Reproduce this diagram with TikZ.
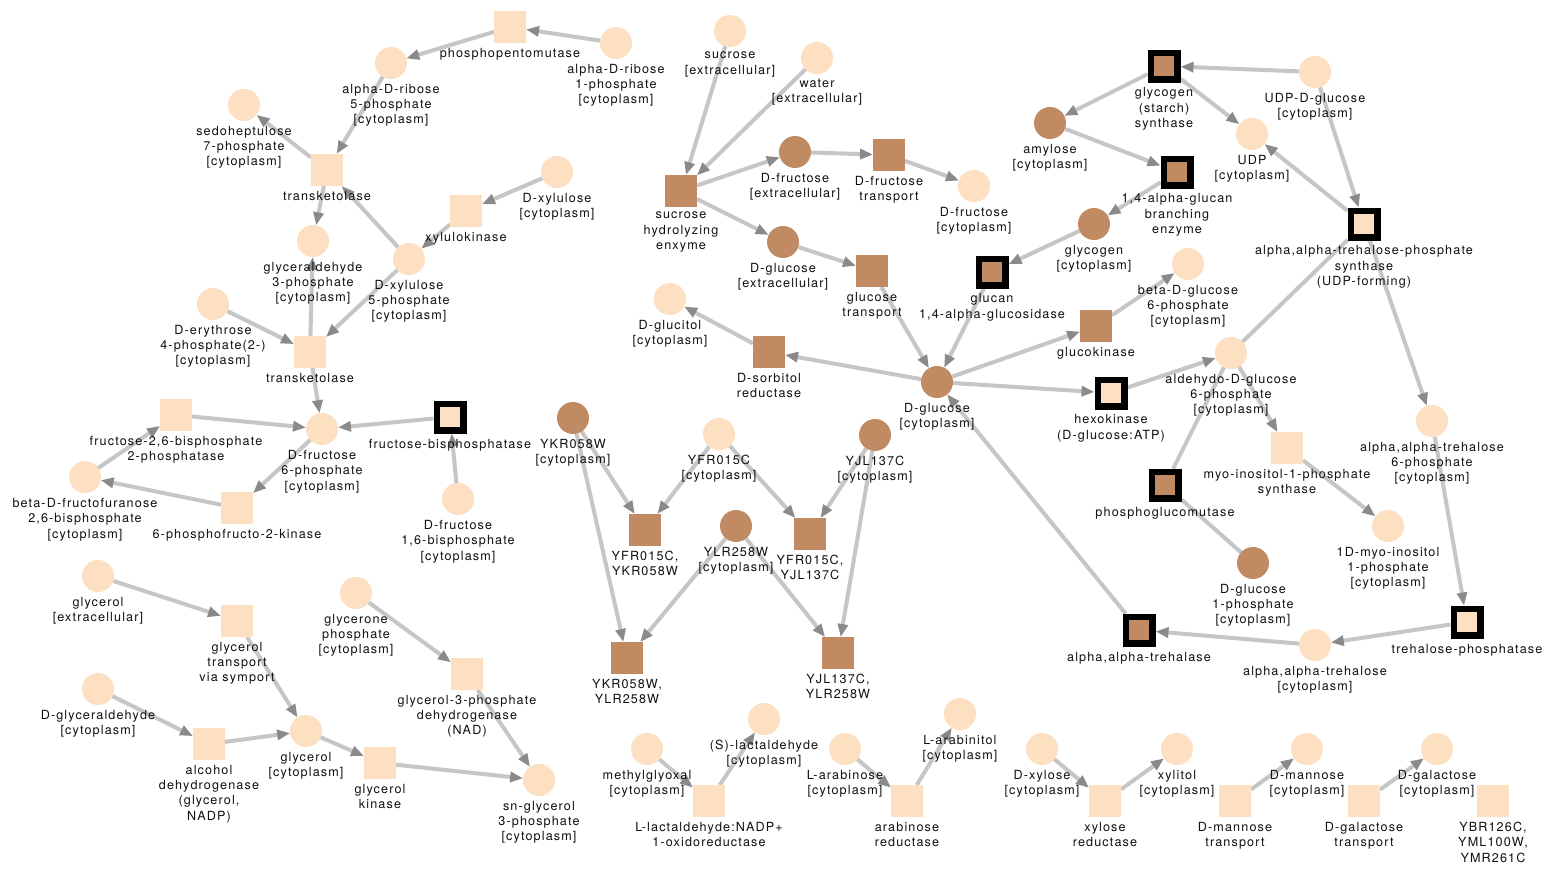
\documentclass[tikz,border=0pt]{standalone}
\usepackage{fontspec}
\setmainfont{TeX Gyre Heros}[LetterSpace=9]
\usetikzlibrary{arrows.meta,backgrounds}

\definecolor{peach}{HTML}{FDDFC1}
\definecolor{cocoa}{HTML}{C08A63}
\definecolor{edgegray}{HTML}{C6C6C6}
\definecolor{tipgray}{HTML}{8A8A8A}
\definecolor{txt}{HTML}{101010}

\tikzset{
  lbl/.style={font=\fontsize{12.6}{15.3}\selectfont, align=center, inner sep=0pt, text=txt,
    execute at begin node={\rule{0pt}{9.5pt}}},
  every label/.style={lbl},
  label distance=5pt,
  met/.style={circle, fill=peach, minimum size=32pt, inner sep=0pt, outer sep=0pt},
  metb/.style={met, fill=cocoa},
  rxn/.style={rectangle, fill=peach, minimum size=32pt, inner sep=0pt, outer sep=0pt},
  rxnb/.style={rxn, fill=cocoa},
  rxk/.style={rectangle, fill=peach, draw=black, line width=6.5pt, minimum size=26.5pt, inner sep=0pt},
  rxkb/.style={rxk, fill=cocoa},
  flow/.style={draw=edgegray, line width=4pt, -{Triangle[length=13pt,width=10pt,color=tipgray]}},
  link/.style={draw=edgegray, line width=4pt},
}

\begin{document}
\begin{tikzpicture}[x=1pt, y=-1pt]
\useasboundingbox (0,0) rectangle (1555,868);

% ---------- pentose phosphate / fructose phosphates ----------
\node[rxn, label=below:{phosphopentomutase}] (ppm) at (510,27) {};
\node[met, label=below:{alpha-D-ribose\\1-phosphate\\{}[cytoplasm]}] (r1p) at (616,43) {};
\node[met, label=below:{alpha-D-ribose\\5-phosphate\\{}[cytoplasm]}] (r5p) at (391,63) {};
\node[met, label=below:{sedoheptulose\\7-phosphate\\{}[cytoplasm]}] (s7p) at (244,105) {};
\node[rxn, label=below:{transketolase}] (tkt1) at (327,170) {};
\node[rxn, label=below:{xylulokinase}] (xylk) at (466,211) {};
\node[met, label=below:{D-xylulose\\{}[cytoplasm]}] (xylu) at (557,172) {};
\node[met, label=below:{glyceraldehyde\\3-phosphate\\{}[cytoplasm]}] (g3p) at (313,241) {};
\node[met, label=below:{D-xylulose\\5-phosphate\\{}[cytoplasm]}] (x5p) at (409,259) {};
\node[met, label=below:{D-erythrose\\4-phosphate(2-)\\{}[cytoplasm]}] (e4p) at (213,304) {};
\node[rxn, label=below:{transketolase}] (tkt2) at (310,352) {};
\node[rxn, label=below:{fructose-2,6-bisphosphate\\2-phosphatase}] (f26pase) at (176,415) {};
\node[met, label=below:{D-fructose\\6-phosphate\\{}[cytoplasm]}] (f6p) at (322,429) {};
\node[rxk, label=below:{fructose-bisphosphatase}] (fbpase) at (450,417) {};
\node[met, label=below:{beta-D-fructofuranose\\2,6-bisphosphate\\{}[cytoplasm]}] (bfru) at (85,477) {};
\node[rxn, label=below:{6-phosphofructo-2-kinase}] (pfk2) at (237,508) {};
\node[met, label=below:{D-fructose\\1,6-bisphosphate\\{}[cytoplasm]}] (fbp) at (458,499) {};

% ---------- glycerol ----------
\node[met, label=below:{glycerol\\{}[extracellular]}] (glyex) at (98,576) {};
\node[rxn, label=below:{glycerol\\transport\\via symport}] (glyt) at (237,621) {};
\node[met, label=below:{glycerone\\phosphate\\{}[cytoplasm]}] (dhap) at (356,593) {};
\node[rxn, label=below:{glycerol-3-phosphate\\dehydrogenase\\(NAD)}] (g3pdh) at (467,674) {};
\node[met, label=below:{D-glyceraldehyde\\{}[cytoplasm]}] (dgla) at (98,689) {};
\node[rxn, label=below:{alcohol\\dehydrogenase\\(glycerol,\\NADP)}] (adh) at (209,744) {};
\node[met, label=below:{glycerol\\{}[cytoplasm]}] (glyc) at (306,731) {};
\node[rxn, label=below:{glycerol\\kinase}] (glyk) at (380,763) {};
\node[met, label=below:{sn-glycerol\\3-phosphate\\{}[cytoplasm]}] (sng3p) at (539,780) {};

% ---------- sucrose, glucose, fructose ----------
\node[met, label=below:{sucrose\\{}[extracellular]}] (sucex) at (730,31) {};
\node[met, label=below:{water\\{}[extracellular]}] (water) at (817,58) {};
\node[rxnb, label=below:{sucrose\\hydrolyzing\\enxyme}] (such) at (681,191) {};
\node[metb, label=below:{D-fructose\\{}[extracellular]}] (fruex) at (795,152) {};
\node[rxnb, label=below:{D-fructose\\transport}] (frut) at (889,155) {};
\node[met, label=below:{D-fructose\\{}[cytoplasm]}] (fruc) at (974,186) {};
\node[metb, label=below:{D-glucose\\{}[extracellular]}] (glcex) at (783,242) {};
\node[rxnb, label=below:{glucose\\transport}] (glct) at (872,271) {};
\node[rxkb, label=below:{glucan\\1,4-alpha-glucosidase}] (gaa) at (992,272) {};
\node[met, label=below:{D-glucitol\\{}[cytoplasm]}] (gluc) at (670,299) {};
\node[rxnb, label=below:{D-sorbitol\\reductase}] (sorb) at (769,352) {};
\node[metb, label=below:{D-glucose\\{}[cytoplasm]}] (glcc) at (937,382) {};

% ---------- gene products ----------
\node[metb, label=below:{YKR058W\\{}[cytoplasm]}] (ykr) at (573,418) {};
\node[met, label=below:{YFR015C\\{}[cytoplasm]}] (yfr) at (719,434) {};
\node[metb, label=below:{YJL137C\\{}[cytoplasm]}] (yjl) at (875,435) {};
\node[rxnb, label=below:{YFR015C,\\YKR058W}] (ryy1) at (645,530) {};
\node[metb, label=below:{YLR258W\\{}[cytoplasm]}] (ylr) at (736,526) {};
\node[rxnb, label=below:{YFR015C,\\YJL137C}] (ryy2) at (810,534) {};
\node[rxnb, label=below:{YKR058W,\\YLR258W}] (ryy3) at (627,658) {};
\node[rxnb, label=below:{YJL137C,\\YLR258W}] (ryy4) at (838,653) {};

% ---------- sugar alcohols and transports ----------
\node[met, label=below:{methylglyoxal\\{}[cytoplasm]}] (mgo) at (647,749) {};
\node[met, label=below:{(S)-lactaldehyde\\{}[cytoplasm]}] (slac) at (764,719) {};
\node[rxn, label=below:{L-lactaldehyde:NADP+\\1-oxidoreductase}] (lalr) at (709,801) {};
\node[met, label=below:{L-arabinose\\{}[cytoplasm]}] (lara) at (845,749) {};
\node[met, label=below:{L-arabinitol\\{}[cytoplasm]}] (laol) at (960,714) {};
\node[rxn, label=below:{arabinose\\reductase}] (arar) at (907,801) {};
\node[met, label=below:{D-xylose\\{}[cytoplasm]}] (xyl) at (1042,749) {};
\node[rxn, label=below:{xylose\\reductase}] (xylr) at (1105,801) {};
\node[met, label=below:{xylitol\\{}[cytoplasm]}] (xol) at (1177,749) {};
\node[rxn, label=below:{D-mannose\\transport}] (mant) at (1235,801) {};
\node[met, label=below:{D-mannose\\{}[cytoplasm]}] (man) at (1307,749) {};
\node[rxn, label=below:{D-galactose\\transport}] (galt) at (1364,801) {};
\node[met, label=below:{D-galactose\\{}[cytoplasm]}] (gal) at (1437,749) {};
\node[rxn, label=below:{YBR126C,\\YML100W,\\YMR261C}] (ybr) at (1493,801) {};

% ---------- glycogen and trehalose ----------
\node[rxkb, label=below:{glycogen\\(starch)\\synthase}] (gsyn) at (1164,66) {};
\node[met, label=below:{UDP-D-glucose\\{}[cytoplasm]}] (udpg) at (1315,72) {};
\node[metb, label=below:{amylose\\{}[cytoplasm]}] (amyl) at (1050,123) {};
\node[met, label=below:{UDP\\{}[cytoplasm]}] (udp) at (1252,134) {};
\node[rxkb, label=below:{1,4-alpha-glucan\\branching\\enzyme}] (gbe) at (1177,172) {};
\node[metb, label=below:{glycogen\\{}[cytoplasm]}] (glyg) at (1094,224) {};
\node[rxk, label=below:{alpha,alpha-trehalose-phosphate\\synthase\\(UDP-forming)}] (tps) at (1364,224) {};
\node[met, label=below:{beta-D-glucose\\6-phosphate\\{}[cytoplasm]}] (bg6p) at (1188,264) {};
\node[rxnb, label=below:{glucokinase}] (glk) at (1096,326) {};
\node[met, label=below:{aldehydo-D-glucose\\6-phosphate\\{}[cytoplasm]}] (ag6p) at (1231,353) {};
\node[rxk, label=below:{hexokinase\\(D-glucose:ATP)}] (hxk) at (1111,393) {};
\node[rxn, label=below:{myo-inositol-1-phosphate\\synthase}] (mips) at (1287,448) {};
\node[met, label=below:{alpha,alpha-trehalose\\6-phosphate\\{}[cytoplasm]}] (t6p) at (1432,421) {};
\node[rxkb, label=below:{phosphoglucomutase}] (pgm) at (1165,485) {};
\node[met, label=below:{1D-myo-inositol\\1-phosphate\\{}[cytoplasm]}] (mi1p) at (1388,526) {};
\node[metb, label=below:{D-glucose\\1-phosphate\\{}[cytoplasm]}] (g1p) at (1253,563) {};
\node[rxkb, label=below:{alpha,alpha-trehalase}] (treh) at (1139,630) {};
\node[met, label=below:{alpha,alpha-trehalose\\{}[cytoplasm]}] (tre) at (1315,645) {};
\node[rxk, label=below:{trehalose-phosphatase}] (tpp) at (1467,622) {};

\begin{scope}[on background layer]
  \fill[white] (0,0) rectangle (1555,868);
  % pentose phosphate / fructose phosphates
  \draw[flow] (r1p) -- (ppm);
  \draw[flow] (ppm) -- (r5p);
  \draw[flow] (r5p) -- (tkt1);
  \draw[flow] (tkt1) -- (s7p);
  \draw[flow] (tkt1) -- (g3p);
  \draw[flow] (x5p) -- (tkt1);
  \draw[flow] (xylu) -- (xylk);
  \draw[flow] (xylk) -- (x5p);
  \draw[flow] (e4p) -- (tkt2);
  \draw[flow] (tkt2) -- (g3p);
  \draw[flow] (x5p) -- (tkt2);
  \draw[flow] (tkt2) -- (f6p);
  \draw[flow] (f26pase) -- (f6p);
  \draw[flow] (fbpase) -- (f6p);
  \draw[flow] (fbp) -- (fbpase);
  \draw[flow] (bfru) -- (f26pase);
  \draw[flow] (f6p) -- (pfk2);
  \draw[flow] (pfk2) -- (bfru);
  % glycerol
  \draw[flow] (glyex) -- (glyt);
  \draw[flow] (glyt) -- (glyc);
  \draw[flow] (dgla) -- (adh);
  \draw[flow] (adh) -- (glyc);
  \draw[flow] (glyc) -- (glyk);
  \draw[flow] (glyk) -- (sng3p);
  \draw[flow] (dhap) -- (g3pdh);
  \draw[flow] (g3pdh) -- (sng3p);
  % sucrose, glucose, fructose
  \draw[flow] (sucex) -- (such);
  \draw[flow] (water) -- (such);
  \draw[flow] (such) -- (fruex);
  \draw[flow] (such) -- (glcex);
  \draw[flow] (fruex) -- (frut);
  \draw[flow] (frut) -- (fruc);
  \draw[flow] (glcex) -- (glct);
  \draw[flow] (glct) -- (glcc);
  \draw[flow] (gaa) -- (glcc);
  \draw[flow] (glyg) -- (gaa);
  \draw[flow] (glcc) -- (sorb);
  \draw[flow] (sorb) -- (gluc);
  \draw[flow] (glcc) -- (glk);
  \draw[flow] (glk) -- (bg6p);
  \draw[flow] (glcc) -- (hxk);
  \draw[flow] (hxk) -- (ag6p);
  \draw[flow] (treh) -- (glcc);
  % glycogen and trehalose
  \draw[flow] (tre) -- (treh);
  \draw[flow] (tpp) -- (tre);
  \draw[flow] (t6p) -- (tpp);
  \draw[flow] (tps) -- (t6p);
  \draw[flow] (udpg) -- (tps);
  \draw[flow] (tps) -- (udp);
  \draw[link] (ag6p) -- (tps);
  \draw[flow] (udpg) -- (gsyn);
  \draw[flow] (gsyn) -- (amyl);
  \draw[flow] (gsyn) -- (udp);
  \draw[flow] (amyl) -- (gbe);
  \draw[flow] (gbe) -- (glyg);
  \draw[flow] (ag6p) -- (mips);
  \draw[flow] (mips) -- (mi1p);
  \draw[link] (pgm) -- (ag6p);
  \draw[link] (g1p) -- (pgm);
  % gene products
  \draw[flow] (ykr) -- (ryy1);
  \draw[flow] (yfr) -- (ryy1);
  \draw[flow] (yfr) -- (ryy2);
  \draw[flow] (yjl) -- (ryy2);
  \draw[flow] (ykr) -- (ryy3);
  \draw[flow] (ylr) -- (ryy3);
  \draw[flow] (ylr) -- (ryy4);
  \draw[flow] (yjl) -- (ryy4);
  % sugar alcohols and transports
  \draw[flow] (mgo) -- (lalr);
  \draw[flow] (lalr) -- (slac);
  \draw[flow] (lara) -- (arar);
  \draw[flow] (arar) -- (laol);
  \draw[flow] (xyl) -- (xylr);
  \draw[flow] (xylr) -- (xol);
  \draw[flow] (mant) -- (man);
  \draw[flow] (galt) -- (gal);
\end{scope}
\end{tikzpicture}
\end{document}
